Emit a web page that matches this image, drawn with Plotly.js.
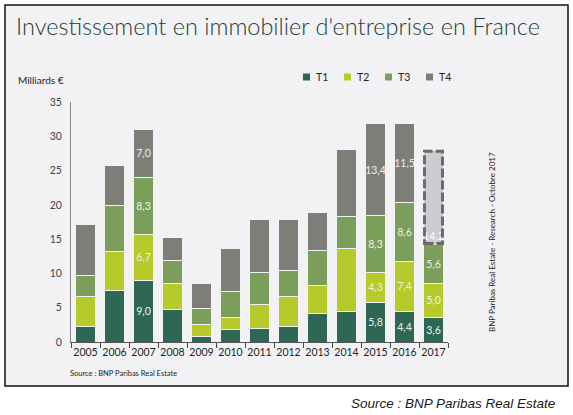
<!DOCTYPE html>
<html>
<head>
<meta charset="utf-8">
<script src="https://cdn.plot.ly/plotly-3.0.1.min.js"></script>
<style>
  html, body { margin: 0; padding: 0; background: #fff; }
  #chart { width: 573px; height: 415px; }
</style>
</head>
<body>
<div id="chart"></div>
<script>
// values, Md€ per quarter
const years = ['2005','2006','2007','2008','2009','2010','2011','2012','2013','2014','2015','2016','2017']
const t1 = [2.3, 7.5, 9.0, 4.8, 0.8, 1.8, 2.0, 2.2, 4.2, 4.5, 5.8, 4.4, 3.6]
const t2 = [4.4, 5.7, 6.7, 3.7, 1.8, 1.8, 3.4, 4.4, 4.1, 9.2, 4.3, 7.4, 5.0]
const t3 = [3.0, 6.7, 8.3, 3.4, 2.3, 3.8, 4.8, 3.8, 5.0, 4.6, 8.3, 8.6, 5.6]
const t4 = [7.5, 5.9, 7.0, 3.3, 3.6, 6.3, 7.7, 7.5, 5.6, 9.8, 13.4, 11.5, 13.8]
const totalLabels = ['17,2','25,8','30,9','15,2','8,5','13,7','17,9','17,9','18,9','28,1','31,8','31,9','28']
const detailYears = ['2007','2015','2016']
const forecastYear = '2017'
const quarterNames = ['T1','T2','T3','T4']

// plot area in pixels (matches margins below)
const PL = 71, PR = 448, PT = 102, PB = 342
const px = p => (p - PL) / (PR - PL)
const py = p => (PB - p) / (PB - PT)

const colors = ['#2e6854', '#b7ca2b', '#7c9e5b', '#7e7e79']
const fmt = v => v.toFixed(1).replace('.', ',')
const series = [t1, t2, t3, t4]

const idx = years.indexOf(forecastYear)
const cum3 = t1[idx] + t2[idx] + t3[idx]
const totals = years.map((y, i) => t1[i] + t2[i] + t3[i] + t4[i])

traces = []
series.forEach((vals, k) => {
    const text = vals.map((v, i) => {
        if (detailYears.includes(years[i])) return fmt(v)
        if (years[i] === forecastYear && k < 3) return fmt(v)
        return ''
    })
    // Q4 of the current year is an estimate, drawn separately below
    const yv = k === 3 ? vals.map((v, i) => i === idx ? null : v) : vals
    traces.push({
        type: 'bar',
        x: years,
        y: yv,
        name: quarterNames[k],
        marker: { color: colors[k], line: { color: '#f2f2f4', width: 1 } },
        text: text,
        textposition: 'inside',
        insidetextanchor: 'middle',
        textangle: 0,
        textfont: { family: 'Lato', size: 10.5, color: '#eef0ea' },
        hoverinfo: 'skip'
    })
})

// estimated Q4, labelled with the 9 months total at its foot
traces.push({
    type: 'bar',
    x: [forecastYear],
    y: [t4[idx]],
    name: 'T4 (estimation)',
    marker: { color: '#cdcdd1', line: { color: '#f2f2f4', width: 1 } },
    text: [fmt(cum3)],
    textposition: 'inside',
    insidetextanchor: 'start',
    textangle: 0,
    textfont: { family: 'Lato', size: 10.5, color: '#ffffff' },
    hoverinfo: 'skip'
})

annotations = []
years.forEach((y, i) => {
    annotations.push({
        x: y, y: totals[i], xref: 'x', yref: 'y',
        text: '<b>' + totalLabels[i] + '</b>',
        showarrow: false, yanchor: 'bottom', yshift: 1,
        font: { family: 'Lato', size: 11, color: '#111' }
    })
})

annotations.push(
    { xref: 'paper', yref: 'paper', x: px(16), y: py(80), xanchor: 'left', yanchor: 'middle',
      text: 'Milliards €', showarrow: false, font: { family: 'Lato', size: 10, color: '#222' } },
    { xref: 'paper', yref: 'paper', x: px(68), y: py(373), xanchor: 'left', yanchor: 'middle',
      text: 'Source : BNP Paribas Real Estate', showarrow: false, font: { family: 'Lato', size: 7.5, color: '#222' } },
    { xref: 'paper', yref: 'paper', x: px(492), y: py(242), xanchor: 'center', yanchor: 'middle', textangle: -90,
      text: 'BNP Paribas Real Estate - Research - Octobre 2017', showarrow: false, font: { family: 'Lato', size: 8, color: '#222' } },
    { xref: 'paper', yref: 'paper', x: px(557), y: py(403), xanchor: 'right', yanchor: 'middle',
      text: '<i>Source : BNP Paribas Real Estate</i>', showarrow: false, font: { family: 'Liberation Sans', size: 13.5, color: '#1a1a1a' } }
)

const half = 0.36, inset = 0.05
shapes = [
    // outer frame
    { type: 'rect', xref: 'paper', yref: 'paper', layer: 'below',
      x0: px(5), x1: px(568), y0: py(386), y1: py(5),
      fillcolor: '#f2f2f4', line: { color: '#111', width: 1.5 } },
    // dashed forecast box, over the estimate bar
    { type: 'rect', xref: 'x', yref: 'y', layer: 'above',
      x0: idx - half + inset, x1: idx + half - inset, y0: cum3 + 0.15, y1: totals[idx] - 0.2,
      fillcolor: 'rgba(0,0,0,0)',
      line: { color: '#6b6a6c', width: 3, dash: '9px,3px' } }
]

// small square legend, like the original
const legX = 303, legStep = 41, legY = 77
quarterNames.forEach((n, k) => {
    shapes.push({ type: 'rect', xref: 'paper', yref: 'paper',
        x0: px(legX + k * legStep), x1: px(legX + 7 + k * legStep),
        y0: py(legY + 3.5), y1: py(legY - 3.5),
        fillcolor: colors[k], line: { width: 0 } })
    annotations.push({ xref: 'paper', yref: 'paper',
        x: px(legX + 11 + k * legStep), y: py(legY), xanchor: 'left', yanchor: 'middle',
        text: n, showarrow: false, font: { family: 'Lato', size: 10.5, color: '#222' } })
})

const layout = {
    width: 573, height: 415,
    margin: { l: PL, r: 573 - PR, t: PT, b: 415 - PB },
    paper_bgcolor: '#ffffff',
    plot_bgcolor: 'rgba(0,0,0,0)',
    barmode: 'stack',
    bargap: 0.28,
    showlegend: false,
    title: {
        text: "Investissement en immobilier d'entreprise en France",
        xref: 'container', yref: 'container',
        x: 16 / 573, xanchor: 'left',
        y: 1 - 27 / 415, yanchor: 'middle',
        font: { family: 'Lato', size: 23.5, weight: 300, color: '#1f3f38' }
    },
    xaxis: {
        type: 'category',
        range: [-0.5, years.length - 0.5],
        showline: true, linecolor: '#555', linewidth: 1,
        ticks: 'outside', tickson: 'boundaries', ticklen: 5, tickcolor: '#444',
        tickangle: 0,
        tickfont: { family: 'Lato', size: 10.5, color: '#222' },
        showgrid: false, fixedrange: true
    },
    yaxis: {
        range: [0, 35], dtick: 5,
        showline: true, linecolor: '#888', linewidth: 1,
        ticks: '', showgrid: false, zeroline: false,
        ticklabelstandoff: 6,
        tickfont: { family: 'Lato', size: 10.5, color: '#444' },
        fixedrange: true
    },
    uniformtext: { minsize: 10, mode: 'show' },
    annotations: annotations,
    shapes: shapes
}

Plotly.newPlot('chart', traces, layout, { displayModeBar: false, staticPlot: true })
</script>
</body>
</html>
